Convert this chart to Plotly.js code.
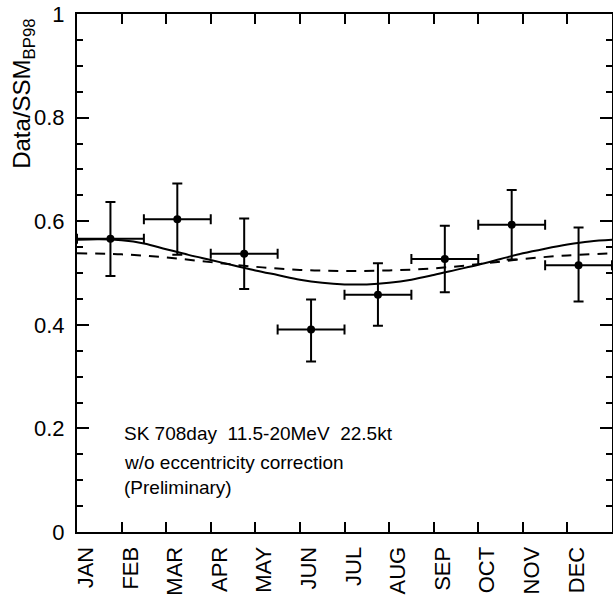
<!DOCTYPE html>
<html>
<head>
<meta charset="utf-8">
<script src="https://cdn.plot.ly/plotly-3.0.1.min.js"></script>
<style>html,body{margin:0;padding:0;background:#fff;}#chart{width:613px;height:598px;}</style>
</head>
<body>
<div id="chart"></div>
<script>
// Month labels (tick at start of each month, month index 0 = start of JAN)
const monthLabels = ["JAN","FEB","MAR","APR","MAY","JUN","JUL","AUG","SEP","OCT","NOV","DEC"];
const monthStarts = [0,1,2,3,4,5,6,7,8,9,10,11,12];

// Data points: 8 bins of 1.5 months
const binCenters = [0.75, 2.25, 3.75, 5.25, 6.75, 8.25, 9.75, 11.25];
const binHalfWidth = [0.75, 0.75, 0.75, 0.75, 0.75, 0.75, 0.75, 0.75];
const ratio = [0.566, 0.604, 0.537, 0.391, 0.458, 0.527, 0.593, 0.515];
const errUp = [0.071, 0.069, 0.068, 0.058, 0.061, 0.064, 0.067, 0.073];
const errDown = [0.072, 0.069, 0.068, 0.062, 0.060, 0.064, 0.067, 0.070];

// Solid curve
const solidT = [0,0.5,1,1.5,2,2.5,3,3.5,4,4.5,5,5.5,6,6.5,7,7.5,8,8.5,9,9.5,10,10.5,11,11.5,12];
const solidV = [0.564,0.565,0.563,0.557,0.546,0.535,0.525,0.515,0.505,0.496,0.487,0.481,0.478,0.478,0.481,0.487,0.496,0.506,0.516,0.527,0.538,0.547,0.555,0.561,0.564];

// Dashed curve
const dashT = [0,1,2,3,4,5,6,7,8,9,10,11,12];
const dashV = [0.538,0.536,0.530,0.521,0.512,0.506,0.504,0.505,0.509,0.517,0.527,0.534,0.538];

const textLines = ["SK 708day\u00a0\u00a011.5-20MeV\u00a0\u00a022.5kt", "w/o eccentricity correction", "(Preliminary)"];
const textY = [0.191, 0.135, 0.085];

const FONT = "Liberation Sans, Arial, Helvetica, sans-serif";

const traces = [
  {x: solidT, y: solidV, mode: "lines", line: {color: "#000", width: 2, shape: "spline"}, hoverinfo: "skip"},
  {x: dashT, y: dashV, mode: "lines", line: {color: "#000", width: 2, dash: "10px,8px", shape: "spline"}, hoverinfo: "skip"},
  {x: binCenters, y: ratio, mode: "markers",
   marker: {color: "#000", size: 8, symbol: "circle"},
   error_y: {type: "data", symmetric: false, array: errUp, arrayminus: errDown, color: "#000", thickness: 2, width: 5},
   error_x: {type: "data", array: binHalfWidth, color: "#000", thickness: 2, width: 5}}
];

const annotations = textLines.map((t, i) => ({
  x: 1.01, y: textY[i], xref: "x", yref: "y", xanchor: "left", yanchor: "middle",
  text: t, showarrow: false, font: {family: FONT, size: 19, color: "#000"}
}));
annotations.push({
  x: -0.099, y: 0.846, xref: "paper", yref: "paper", xanchor: "center", yanchor: "middle",
  text: "Data/SSM<sub>BP98</sub>", textangle: -90, showarrow: false,
  font: {family: FONT, size: 24, color: "#000"}
});

const layout = {
  width: 613, height: 598,
  margin: {l: 77, r: 1, t: 14, b: 66, pad: 0},
  paper_bgcolor: "#fff", plot_bgcolor: "#fff",
  showlegend: false,
  font: {family: FONT, color: "#000"},
  xaxis: {
    range: [0, 12], tickvals: monthStarts.slice(0, 12), ticktext: monthLabels,
    tickangle: -90, ticklabelshift: 9, ticklabelstandoff: 4,
    ticks: "inside", ticklen: 10, tickwidth: 2, tickcolor: "#000",
    showline: true, linewidth: 2, linecolor: "#000", mirror: "ticks",
    showgrid: false, zeroline: false,
    tickfont: {family: FONT, size: 22, color: "#000"}
  },
  yaxis: {
    range: [0, 1], tickvals: [0, 0.2, 0.4, 0.6, 0.8, 1], ticktext: ["0","0.2","0.4","0.6","0.8","1"],
    ticks: "inside", ticklen: 12, tickwidth: 2, tickcolor: "#000",
    minor: {dtick: 0.05, ticks: "inside", ticklen: 6, tickwidth: 2, tickcolor: "#000"},
    showline: true, linewidth: 2, linecolor: "#000", mirror: "ticks",
    showgrid: false, zeroline: false, ticklabelstandoff: 6,
    tickfont: {family: FONT, size: 22, color: "#000"}
  },
  annotations: annotations
};

Plotly.newPlot("chart", traces, layout, {staticPlot: true, displayModeBar: false});
</script>
</body>
</html>
